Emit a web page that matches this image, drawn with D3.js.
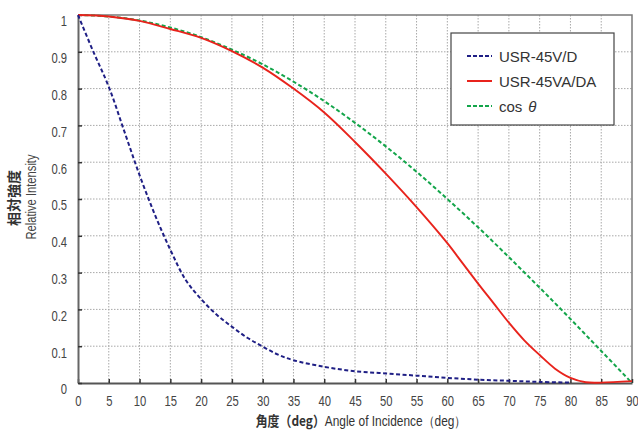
<!DOCTYPE html>
<html>
<head>
<meta charset="utf-8">
<script src="https://cdn.jsdelivr.net/npm/d3@7"></script>
<style>
  body { margin: 0; background: #fff; }
  svg { display: block; }
</style>
</head>
<body>
<div id="chart"></div>
<script>
// Angles (deg) and read-off values
const blueAngles = [0, 2.5, 5, 7.5, 10, 12.5, 15, 17.5, 20, 22.5, 25, 27.5, 30, 32.5, 35, 40, 45, 50, 55, 60, 65, 70, 75, 80];
const blueValues = [1.0, 0.90, 0.805, 0.685, 0.565, 0.457, 0.362, 0.28, 0.228, 0.186, 0.153, 0.123, 0.099, 0.077, 0.062, 0.044, 0.032, 0.026, 0.02, 0.014, 0.009, 0.006, 0.003, 0.001];

const redAngles = [0, 5, 10, 15, 20, 25, 30, 35, 40, 45, 50, 55, 60, 62.5, 65, 67.5, 70, 72.5, 75, 77.5, 80, 82.5, 85, 90];
const redValues = [1.0, 0.996, 0.984, 0.962, 0.938, 0.902, 0.857, 0.8, 0.735, 0.655, 0.569, 0.478, 0.38, 0.325, 0.27, 0.217, 0.164, 0.116, 0.076, 0.039, 0.014, 0.002, 0.001, 0.005];

const greenAngles = [0, 5, 10, 15, 20, 25, 30, 35, 40, 45, 50, 55, 60, 65, 70, 75, 80, 85, 90];
const greenValues = [1.0, 0.996, 0.985, 0.966, 0.94, 0.906, 0.866, 0.819, 0.766, 0.707, 0.643, 0.574, 0.5, 0.423, 0.342, 0.259, 0.174, 0.087, 0.0];

const xTicks = d3.range(0, 91, 5);
const yTicks = [0, 0.1, 0.2, 0.3, 0.4, 0.5, 0.6, 0.7, 0.8, 0.9, 1];
const yTickLabels = ["0", "0.1", "0.2", "0.3", "0.4", "0.5", "0.6", "0.7", "0.8", "0.9", "1"];

const seriesNames = ["USR-45V/D", "USR-45VA/DA", "cos"];

const width = 638, height = 432;
const plotL = 78, plotR = 632, plotT = 15, plotB = 383;
const squeeze = 0.75; // condensed look for tick labels

const x = d3.scaleLinear().domain([0, 90]).range([plotL, plotR]);
const y = d3.scaleLinear().domain([0, 1]).range([plotB, plotT]);

const svg = d3.select("#chart").append("svg")
  .attr("width", width).attr("height", height)
  .style("font-family", "'Liberation Sans', Arial, sans-serif");

// grid
svg.append("g").selectAll("line").data(xTicks.slice(1, -1)).enter().append("line")
  .attr("x1", d => x(d)).attr("x2", d => x(d))
  .attr("y1", plotT).attr("y2", plotB)
  .attr("stroke", "#a8a8a8").attr("stroke-width", 1).attr("stroke-dasharray", "1.5,1.5");
svg.append("g").selectAll("line").data(yTicks.slice(1, -1)).enter().append("line")
  .attr("x1", plotL).attr("x2", plotR)
  .attr("y1", d => y(d)).attr("y2", d => y(d))
  .attr("stroke", "#a8a8a8").attr("stroke-width", 1).attr("stroke-dasharray", "1.5,1.5");

// frame top/right
svg.append("path")
  .attr("d", `M${plotL},${plotT}H${plotR}V${plotB}`)
  .attr("fill", "none").attr("stroke", "#7a7a7a").attr("stroke-width", 1.5);

// axes
const xAxis = d3.axisBottom(x).tickValues(xTicks).tickSizeInner(-4).tickSizeOuter(0).tickPadding(12);
const gx = svg.append("g").attr("transform", `translate(0,${plotB})`).call(xAxis);
gx.select(".domain").attr("stroke", "#555").attr("stroke-width", 2);
gx.selectAll(".tick line").attr("stroke", "#333").attr("stroke-width", 1.5);
gx.selectAll(".tick text")
  .attr("font-family", "'Liberation Sans', Arial, sans-serif")
  .attr("font-size", 15).attr("fill", "#444")
  .attr("transform", `scale(${squeeze},1)`);

const yAxis = d3.axisLeft(y).tickValues(yTicks).tickFormat((d, i) => yTickLabels[i])
  .tickSizeInner(-4).tickSizeOuter(0).tickPadding(11);
const gy = svg.append("g").attr("transform", `translate(${plotL},0)`).call(yAxis);
gy.select(".domain").attr("stroke", "#666").attr("stroke-width", 2);
gy.selectAll(".tick line").attr("stroke", "#333").attr("stroke-width", 1.5);
gy.selectAll(".tick text")
  .attr("font-family", "'Liberation Sans', Arial, sans-serif")
  .attr("font-size", 15).attr("fill", "#444")
  .attr("x", -11 / squeeze)
  .attr("dy", "0.72em")
  .attr("transform", `scale(${squeeze},1)`);

// lines
const line = d3.line().x(d => x(d[0])).y(d => y(d[1])).curve(d3.curveCatmullRom.alpha(0.5));
const green = greenAngles.map((a, i) => [a, greenValues[i]]);
const red = redAngles.map((a, i) => [a, redValues[i]]);
const blue = blueAngles.map((a, i) => [a, blueValues[i]]);

svg.append("path").datum(green).attr("d", line)
  .attr("fill", "none").attr("stroke", "#13a54a").attr("stroke-width", 2).attr("stroke-dasharray", "4,2.5");
svg.append("path").datum(red).attr("d", line)
  .attr("fill", "none").attr("stroke", "#e8231c").attr("stroke-width", 1.9);
svg.append("path").datum(blue).attr("d", line)
  .attr("fill", "none").attr("stroke", "#1f1f85").attr("stroke-width", 2).attr("stroke-dasharray", "4,2.5");

// legend
const lg = svg.append("g");
lg.append("rect").attr("x", 451).attr("y", 33).attr("width", 163).attr("height", 92)
  .attr("fill", "#fff").attr("stroke", "#444").attr("stroke-width", 1.2);
const legendStyles = [
  { color: "#1f1f85", dash: "4,2" },
  { color: "#e8231c", dash: null },
  { color: "#13a54a", dash: "4,2" }
];
seriesNames.forEach((name, i) => {
  const cy = 56 + i * 25;
  lg.append("line").attr("x1", 467).attr("x2", 492).attr("y1", cy).attr("y2", cy)
    .attr("stroke", legendStyles[i].color).attr("stroke-width", 2)
    .attr("stroke-dasharray", legendStyles[i].dash);
  const t = lg.append("text").attr("x", 499).attr("y", cy + 5.5)
    .attr("font-size", 15).attr("fill", "#333")
    .text(name);
  if (i === 2) t.append("tspan").attr("dx", 6).attr("font-style", "italic").text("θ");
});

// axis titles
const xt = svg.append("text").attr("transform", "translate(361,426) scale(0.85,1)")
  .attr("text-anchor", "middle").attr("fill", "#333").attr("font-size", 14);
xt.append("tspan").attr("font-family", "'Noto Sans CJK JP', sans-serif").attr("font-weight", "bold").text("角度（deg）");
xt.append("tspan").text("Angle of Incidence（deg）");

svg.append("text").attr("transform", "translate(19,198) rotate(-90)").attr("text-anchor", "middle")
  .attr("font-family", "'Noto Sans CJK JP', sans-serif").attr("font-weight", "bold")
  .attr("font-size", 14).attr("fill", "#333").text("相対強度");
svg.append("text").attr("transform", "translate(36,197) rotate(-90) scale(0.8,1)").attr("text-anchor", "middle")
  .attr("font-size", 14).attr("fill", "#444").text("Relative Intensity");
</script>
</body>
</html>
